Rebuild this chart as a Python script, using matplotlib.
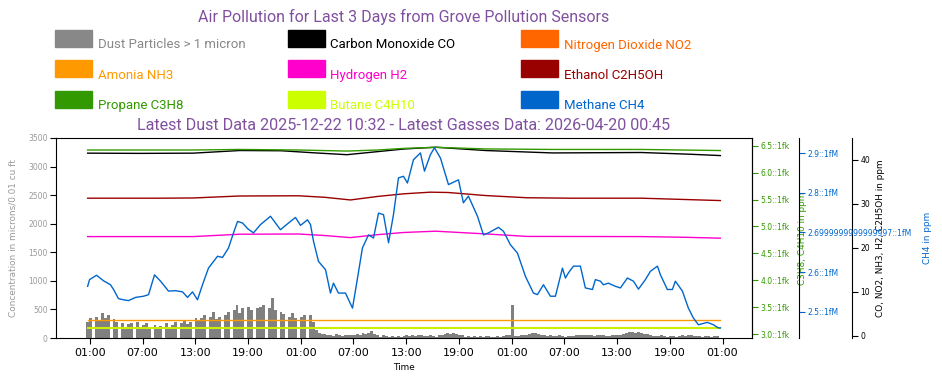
import datetime as dt
import matplotlib
matplotlib.use("Agg")
import matplotlib.pyplot as plt
import matplotlib.dates as mdates
from matplotlib.patches import Rectangle
from matplotlib.ticker import FixedLocator, FixedFormatter

W, H = 942, 385

start = dt.datetime(2026, 4, 17, 0, 45)
dust_step_min = 20

# dust particles, one bar every 20 minutes
dust = [285, 345, 0, 373, 300, 432, 350, 402, 0, 327,
        285, 0, 257, 200, 245, 257, 0, 274, 190, 227,
        257, 170, 0, 227, 160, 210, 0, 257, 200, 227,
        274, 0, 257, 315, 240, 274, 0, 345, 290, 345,
        402, 0, 362, 460, 330, 373, 0, 402, 460, 0,
        490, 577, 430, 520, 0, 548, 490, 0, 520, 548,
        577, 0, 520, 700, 490, 0, 460, 420, 0, 373,
        432, 345, 0, 373, 402, 0, 402, 285, 140, 82,
        75, 70, 60, 55, 40, 65, 50, 35, 45, 60,
        45, 60, 70, 55, 80, 65, 90, 122, 70, 50,
        25, 45, 30, 20, 35, 25, 40, 15, 30, 45,
        40, 55, 35, 50, 45, 30, 40, 50, 35, 25,
        45, 60, 75, 80, 70, 85, 65, 50, 45, 25,
        30, 20, 40, 25, 35, 15, 30, 40, 25, 20,
        35, 25, 30, 45, 50, 570, 30, 40, 55, 45,
        60, 70, 80, 80, 75, 55, 45, 35, 50, 40,
        30, 45, 35, 25, 40, 30, 35, 50, 45, 60,
        55, 45, 50, 40, 60, 50, 45, 35, 40, 55,
        50, 45, 60, 70, 95, 110, 100, 90, 105, 85,
        75, 65, 50, 40, 35, 30, 45, 40, 25, 35,
        30, 20, 40, 45, 35, 55, 50, 40, 30, 35,
        25, 40, 30, 20, 35, 30]

# gases: hours since start, ppm
co_h = [0, 6, 12, 17.3, 22, 26, 29.5, 33, 36, 39.6, 45.3, 52.9, 63, 68.6, 72]
co = [41.55, 41.5, 41.55, 42.15, 42.1, 41.6, 41.2, 41.9, 42.5, 42.9, 42.15, 41.6, 41.7, 41.3, 41.0]

no2_h = [0, 12, 24, 36, 48, 60, 72]
no2 = [1.75, 1.72, 1.78, 1.70, 1.76, 1.74, 1.75]

nh3_h = [0, 24, 48, 72]
nh3 = [3.5, 3.5, 3.5, 3.5]

h2_h = [0, 12, 17.3, 24, 27, 29.9, 33, 36, 39.6, 45.3, 50, 63, 68, 72]
h2 = [22.56, 22.56, 23.1, 23.15, 22.8, 22.33, 23.0, 23.5, 23.79, 23.17, 22.6, 22.56, 22.4, 22.2]

eth_h = [0, 8, 12, 17.3, 24, 27, 29.9, 33, 36, 39, 41, 45.3, 50, 55, 63, 68, 72]
eth = [31.3, 31.3, 31.35, 31.8, 31.85, 31.5, 30.9, 31.7, 32.3, 32.67, 32.6, 31.9, 31.4, 31.3, 31.3, 31.0, 30.76]

prop_h = [0, 12, 17.3, 24, 29.5, 33, 36, 39.6, 45.3, 52.9, 63, 72]
prop = [6.42, 6.42, 6.43, 6.42, 6.40, 6.42, 6.45, 6.47, 6.44, 6.43, 6.43, 6.41]

but_h = [0, 24, 48, 72]
but = [3.11, 3.11, 3.11, 3.11]

ch4_h = [0.0, 0.22, 1.01, 1.81, 2.60, 2.95, 3.51, 4.08, 4.65, 5.45, 6.36, 6.93, 7.61, 8.30,
         9.20, 10.00, 10.80, 11.37, 11.93, 12.50, 13.07, 13.75, 14.78, 15.35, 16.03, 16.60,
         17.06, 17.62, 17.96, 18.19, 18.87, 19.67, 20.81, 21.94, 22.86, 23.65, 24.22, 25.02,
         25.36, 25.70, 26.27, 27.07, 27.63, 27.97, 28.54, 29.34, 30.14, 30.71, 31.27, 31.96,
         32.53, 33.10, 33.67, 34.24, 34.80, 35.37, 35.94, 36.39, 37.08, 37.87, 38.33, 39.01,
         39.47, 40.15, 41.06, 42.20, 42.76, 43.33, 44.36, 45.04, 45.61, 46.75, 47.32, 48.11,
         48.91, 49.82, 50.73, 51.18, 51.87, 52.66, 53.23, 54.03, 54.37, 54.71, 55.28, 56.07,
         56.64, 57.44, 57.78, 58.35, 58.69, 59.26, 60.06, 60.63, 61.42, 62.11, 62.68, 63.47,
         64.04, 64.84, 65.18, 65.97, 66.54, 66.88, 67.68, 68.36, 68.93, 69.50, 70.52, 71.20,
         71.77, 72.00]
ch4 = [2.564, 2.581, 2.592, 2.578, 2.568, 2.556, 2.533, 2.530, 2.528, 2.536, 2.539, 2.543, 2.593, 2.577,
       2.552, 2.553, 2.550, 2.536, 2.550, 2.530, 2.568, 2.610, 2.640, 2.637, 2.661, 2.699,
       2.728, 2.724, 2.716, 2.710, 2.699, 2.720, 2.741, 2.707, 2.724, 2.738, 2.718, 2.732,
       2.720, 2.678, 2.627, 2.606, 2.547, 2.572, 2.547, 2.547, 2.509, 2.585, 2.661, 2.694,
       2.686, 2.749, 2.745, 2.674, 2.745, 2.838, 2.842, 2.825, 2.884, 2.901, 2.855, 2.897,
       2.914, 2.888, 2.821, 2.833, 2.775, 2.792, 2.741, 2.694, 2.699, 2.713, 2.703, 2.669,
       2.648, 2.589, 2.547, 2.543, 2.568, 2.539, 2.539, 2.610, 2.585, 2.598, 2.615, 2.615,
       2.560, 2.556, 2.581, 2.577, 2.568, 2.572, 2.564, 2.560, 2.585, 2.577, 2.557, 2.581,
       2.602, 2.615, 2.593, 2.556, 2.556, 2.577, 2.552, 2.509, 2.484, 2.467, 2.473, 2.467,
       2.459, 2.459]

left_ticks = [0, 500, 1000, 1500, 2000, 2500, 3000, 3500]
green_ticks = [3.0, 3.5, 4.0, 4.5, 5.0, 5.5, 6.0, 6.5]
green_labels = ["%s::1fk" % v for v in green_ticks]
ch4_ticks = [2.5, 2.6, 2.7, 2.8, 2.9]
ch4_labels = ["2.5::1fM", "2.6::1fM", "2.6999999999999997::1fM", "2.8::1fM", "2.9::1fM"]
black_ticks = [0, 10, 20, 30, 40]

legend_labels = ["Dust Particles > 1 micron", "Carbon Monoxide CO", "Nitrogen Dioxide NO2",
                 "Amonia NH3", "Hydrogen H2", "Ethanol C2H5OH",
                 "Propane C3H8", "Butane C4H10", "Methane CH4"]
legend_colors = ["#888888", "#000000", "#FF6600",
                 "#FF9900", "#FF00CC", "#990000",
                 "#339900", "#CCFF00", "#0066CC"]

title = "Air Pollution for Last 3 Days from Grove Pollution Sensors"
subtitle = "Latest Dust Data 2025-12-22 10:32 - Latest Gasses Data: 2026-04-20 00:45"
purple = "#80509f"


def times(hours):
    return [start + dt.timedelta(hours=h) for h in hours]


fig = plt.figure(figsize=(W / 100, H / 100), dpi=100)
ax = fig.add_axes([56 / W, 1 - 338 / H, 696 / W, 200 / H])
ax_black = ax.twinx()
ax_green = ax.twinx()
ax_blue = ax.twinx()

dust_times = [start + dt.timedelta(minutes=dust_step_min * i) for i in range(len(dust))]
ax.bar(dust_times, dust, width=dust_step_min / 1440, color="#808080", linewidth=0)

ax_black.plot(times(co_h), co, color="black", lw=1)
ax_black.plot(times(no2_h), no2, color="#FF6600", lw=1)
ax_black.plot(times(nh3_h), nh3, color="#FF9900", lw=1)
ax_black.plot(times(h2_h), h2, color="#FF00CC", lw=1)
ax_black.plot(times(eth_h), eth, color="#990000", lw=1)
ax_green.plot(times(prop_h), prop, color="#339900", lw=1)
ax_green.plot(times(but_h), but, color="#CCEE00", lw=1.5)
ax_blue.plot(times(ch4_h), ch4, color="#0066CC", lw=1)

ax.set_xlim(start - dt.timedelta(hours=3.6), start + dt.timedelta(hours=75.6))
ax.xaxis.set_major_locator(mdates.HourLocator(byhour=[1, 7, 13, 19]))
ax.xaxis.set_major_formatter(mdates.DateFormatter("%H:%M"))
ax.tick_params(axis="x", labelsize=8, length=4, pad=3)
ax.set_xlabel("Time", fontsize=6.4, labelpad=4)

ax.set_ylim(0, 3500)
ax.yaxis.set_major_locator(FixedLocator(left_ticks))
ax.tick_params(axis="y", labelsize=5.5, labelcolor="#999999", length=4, pad=2)
ax.set_ylabel("Concentration in microns/0.01 cu ft", fontsize=6.4, color="#999999")
ax.yaxis.set_label_coords(-0.056, 0.5)

ax_green.set_ylim(2.926, 6.643)
ax_green.yaxis.set_major_locator(FixedLocator(green_ticks))
ax_green.yaxis.set_major_formatter(FixedFormatter(green_labels))
ax_green.tick_params(axis="y", labelsize=5.5, colors="#339900", length=4, pad=2)
ax_green.set_ylabel("C3H8, C4H10 in ppm", fontsize=6.4, color="#339900")
ax_green.yaxis.set_label_coords(1.0661, 0.5)

ax_blue.spines["right"].set_position(("axes", 1 + 47 / 696))
ax_blue.set_ylim(2.4335, 2.9387)
ax_blue.yaxis.set_major_locator(FixedLocator(ch4_ticks))
ax_blue.yaxis.set_major_formatter(FixedFormatter(ch4_labels))
ax_blue.tick_params(axis="y", labelsize=5.5, colors="#0066CC", length=4, pad=2)
ax_blue.set_ylabel("CH4 in ppm", fontsize=6.4, color="#0066CC")
ax_blue.yaxis.set_label_coords(1.2457, 0.5)

ax_black.spines["right"].set_position(("axes", 1 + 100 / 696))
ax_black.set_ylim(-0.52, 45.0)
ax_black.yaxis.set_major_locator(FixedLocator(black_ticks))
ax_black.tick_params(axis="y", labelsize=5.5, colors="black", length=4, pad=2)
ax_black.set_ylabel("CO, NO2, NH3, H2, C2H5OH in ppm", fontsize=6.4, color="black")
ax_black.yaxis.set_label_coords(1.1782, 0.5)

for a in (ax_black, ax_green, ax_blue):
    for side in ("left", "top", "bottom"):
        a.spines[side].set_visible(False)

# titles
fig.text(404 / W, 1 - 21.7 / H, title, ha="center", va="baseline",
         fontsize=11.5, color=purple, family="Roboto")
fig.text(404 / W, 1 - 130 / H, subtitle, ha="center", va="baseline",
         fontsize=11.6, color=purple, family="Roboto")

# legend laid out row by row, three per row
for i, (lab, col) in enumerate(zip(legend_labels, legend_colors)):
    r, c = divmod(i, 3)
    x0 = 55 + 233 * c
    y0 = 30 + 30.3 * r
    fig.patches.append(Rectangle((x0 / W, 1 - (y0 + 17) / H), 37 / W, 17 / H,
                                 transform=fig.transFigure, color=col, figure=fig))
    fig.text((x0 + 42.5) / W, 1 - (y0 + 18.5) / H, lab, color=col, fontsize=9.5,
             family="Roboto", va="baseline")

fig.savefig("out.png", dpi=100)
